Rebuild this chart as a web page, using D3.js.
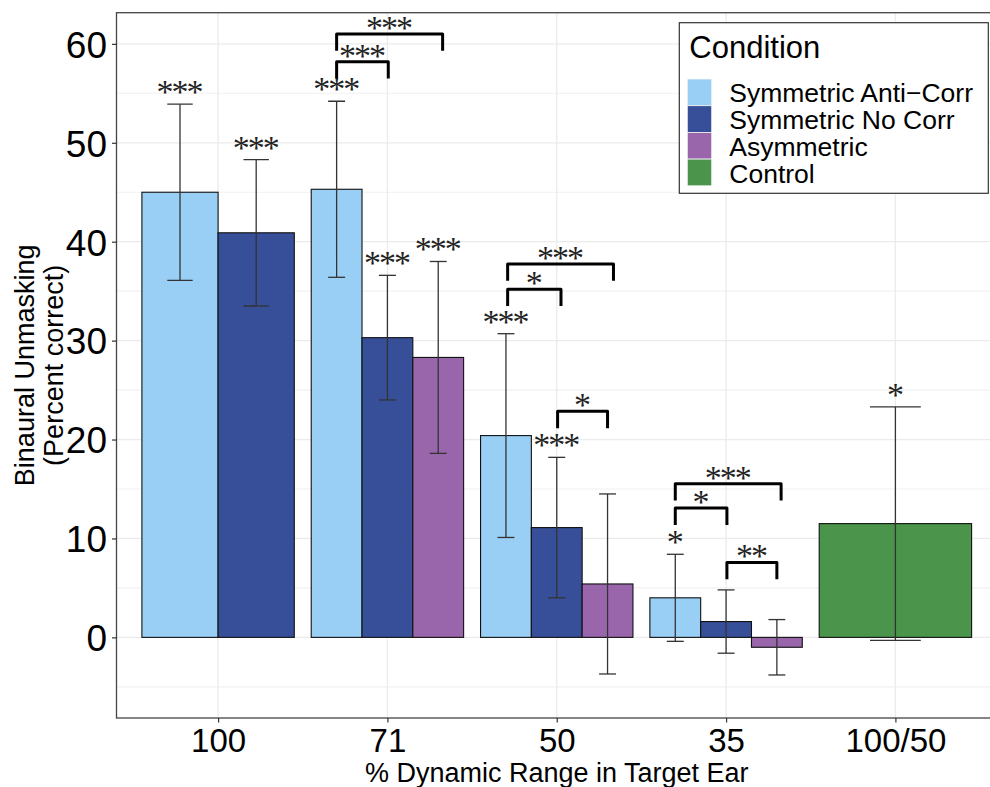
<!DOCTYPE html>
<html>
<head>
<meta charset="utf-8">
<script src="https://cdn.jsdelivr.net/npm/d3@7"></script>
<style>
  html, body { margin: 0; padding: 0; background: #fff; }
  svg { display: block; }
  text { font-family: "Liberation Sans", Arial, sans-serif; }
</style>
</head>
<body>
<svg id="chart" width="990" height="787"></svg>
<script>
// Dynamic-range categories (x axis) and conditions (fill)
const categories = ["100", "71", "50", "35", "100/50"];
const conditions = ["Symmetric Anti\u2212Corr", "Symmetric No Corr", "Asymmetric", "Control"];
const conditionColors = ["#9acff5", "#374f98", "#9966ab", "#4a944b"];

// One entry per bar: category, condition, mean unmasking, error half-width, significance
const barCategory  = ["100", "100", "71", "71", "71", "50", "50", "50", "35", "35", "35", "100/50"];
const barCondition = [0, 1, 0, 1, 2, 0, 1, 2, 0, 1, 2, 3];
const barMean      = [45.0, 40.9, 45.3, 30.3, 28.3, 20.4, 11.1, 5.4, 4.0, 1.6, -1.0, 11.5];
const barError     = [8.9, 7.4, 8.9, 6.3, 9.7, 10.3, 7.1, 9.1, 4.4, 3.2, 2.8, 11.8];
const barSig       = ["***", "***", "***", "***", "***", "***", "***", "", "*", "", "", "*"];

// Pairwise comparison brackets: category, leg positions (offset from category centre,
// in category steps), bracket height (percent) and significance
const bracketCategory = ["71", "71", "50", "50", "50", "35", "35", "35"];
const bracketFrom     = [-0.3, -0.3, -0.29, -0.29, 0.005, -0.3, -0.3, 0.005];
const bracketTo       = [0.005, 0.326, 0.025, 0.335, 0.3, 0.005, 0.325, 0.3];
const bracketY        = [58.2, 61.0, 35.2, 37.75, 22.85, 13.07, 15.53, 7.58];
const bracketLabel    = ["***", "***", "*", "***", "*", "*", "***", "**"];
const bracketLeg      = 1.7;

const yTicks = [0, 10, 20, 30, 40, 50, 60];
const yMinor = [-5, 5, 15, 25, 35, 45, 55];

const svg = d3.select("#chart");
const panel = { left: 116.5, right: 997, top: 12.7, bottom: 718 };

const x = d3.scalePoint().domain(categories).range([panel.left, panel.right]).padding(0.6);
const step = x.step();
const y = d3.scaleLinear().domain([-8.15, 63.15]).range([panel.bottom, panel.top]);

// Bars with dodge positions (0.9 of a step shared within each category)
const bars = barCategory.map((c, i) => ({
  cat: c, cond: barCondition[i], mean: barMean[i], err: barError[i], sig: barSig[i]
}));
const groups = d3.group(bars, d => d.cat);
groups.forEach(list => {
  const n = list.length;
  list.forEach((b, k) => {
    b.w = 0.9 / n * step;
    b.cx = x(b.cat) + (-0.45 + (k + 0.5) * 0.9 / n) * step;
    b.capW = 0.3 / n * step;
  });
});

svg.append("defs").append("clipPath").attr("id", "panel-clip")
  .append("rect").attr("x", panel.left).attr("y", panel.top)
  .attr("width", panel.right - panel.left).attr("height", panel.bottom - panel.top);

const g = svg.append("g").attr("clip-path", "url(#panel-clip)");

// Grid
g.selectAll("line.minor").data(yMinor).join("line")
  .attr("x1", panel.left).attr("x2", panel.right)
  .attr("y1", d => y(d)).attr("y2", d => y(d))
  .attr("stroke", "#f1f1f1").attr("stroke-width", 1.1);
g.selectAll("line.majorY").data(yTicks).join("line")
  .attr("x1", panel.left).attr("x2", panel.right)
  .attr("y1", d => y(d)).attr("y2", d => y(d))
  .attr("stroke", "#ebebeb").attr("stroke-width", 1.3);
g.selectAll("line.majorX").data(categories).join("line")
  .attr("x1", d => x(d)).attr("x2", d => x(d))
  .attr("y1", panel.top).attr("y2", panel.bottom)
  .attr("stroke", "#ebebeb").attr("stroke-width", 1.3);

// Bars
g.selectAll("rect.bar").data(bars).join("rect")
  .attr("x", d => d.cx - d.w / 2)
  .attr("width", d => d.w)
  .attr("y", d => y(Math.max(0, d.mean)))
  .attr("height", d => Math.abs(y(d.mean) - y(0)))
  .attr("fill", d => conditionColors[d.cond])
  .attr("stroke", "#111").attr("stroke-width", 1.1);

// Error bars
const eb = g.selectAll("g.err").data(bars).join("g")
  .attr("stroke", "#333").attr("stroke-width", 1.3).attr("fill", "none");
eb.append("line").attr("x1", d => d.cx).attr("x2", d => d.cx)
  .attr("y1", d => y(d.mean + d.err)).attr("y2", d => y(d.mean - d.err));
eb.append("line").attr("x1", d => d.cx - d.capW / 2).attr("x2", d => d.cx + d.capW / 2)
  .attr("y1", d => y(d.mean + d.err)).attr("y2", d => y(d.mean + d.err));
eb.append("line").attr("x1", d => d.cx - d.capW / 2).attr("x2", d => d.cx + d.capW / 2)
  .attr("y1", d => y(d.mean - d.err)).attr("y2", d => y(d.mean - d.err));

// Significance above each bar
const starFont = '"Liberation Serif", "Times New Roman", serif';
function starText(sel) {
  sel.attr("text-anchor", "middle")
    .style("font-family", starFont).style("font-size", "34px")
    .style("letter-spacing", "-2px").attr("fill", "#222");
}
g.selectAll("text.sig").data(bars.filter(d => d.sig)).join("text")
  .attr("x", d => d.cx - 1)
  .attr("y", d => y(d.mean + d.err) - 1)
  .call(starText)
  .text(d => d.sig);

// Comparison brackets
const brackets = bracketCategory.map((c, i) => ({
  x1: x(c) + bracketFrom[i] * step, x2: x(c) + bracketTo[i] * step,
  yTop: bracketY[i], label: bracketLabel[i]
}));
g.selectAll("path.bracket").data(brackets).join("path")
  .attr("d", d => `M${d.x1},${y(d.yTop - bracketLeg)}V${y(d.yTop)}H${d.x2}V${y(d.yTop - bracketLeg)}`)
  .attr("fill", "none").attr("stroke", "#000").attr("stroke-width", 3)
  .attr("stroke-linejoin", "round");
g.selectAll("text.bracketLabel").data(brackets).join("text")
  .attr("x", d => (d.x1 + d.x2) / 2 - 1)
  .attr("y", d => y(d.yTop) + 5)
  .call(starText)
  .text(d => d.label);

// Panel border
svg.append("rect")
  .attr("x", panel.left).attr("y", panel.top)
  .attr("width", panel.right - panel.left).attr("height", panel.bottom - panel.top)
  .attr("fill", "none").attr("stroke", "#444").attr("stroke-width", 1.3);

// Y axis
const yAxis = svg.append("g").attr("transform", `translate(${panel.left},0)`)
  .call(d3.axisLeft(y).tickValues(yTicks).tickSize(4.5).tickPadding(5).tickFormat(d3.format("d")));
yAxis.select(".domain").remove();
yAxis.selectAll(".tick line").attr("stroke", "#333").attr("stroke-width", 1.2);
yAxis.selectAll(".tick text").attr("fill", "#000")
  .style("font-size", "37px").style("font-family", '"Liberation Sans", Arial, sans-serif')
  .attr("dy", "0.36em");

// X axis
const xAxis = svg.append("g").attr("transform", `translate(0,${panel.bottom})`)
  .call(d3.axisBottom(x).tickSize(4.5).tickPadding(6));
xAxis.select(".domain").remove();
xAxis.selectAll(".tick line").attr("stroke", "#333").attr("stroke-width", 1.2);
xAxis.selectAll(".tick text").attr("fill", "#000")
  .style("font-size", "33px").style("font-family", '"Liberation Sans", Arial, sans-serif')
  .attr("dy", "0.71em");

// Axis titles
svg.append("text")
  .attr("x", (panel.left + panel.right) / 2).attr("y", 781.5)
  .attr("text-anchor", "middle").style("font-size", "27px").attr("fill", "#000")
  .text("% Dynamic Range in Target Ear");
const yTitle = svg.append("text")
  .attr("transform", `translate(33.5,${(panel.top + panel.bottom) / 2}) rotate(-90)`)
  .attr("text-anchor", "middle").style("font-size", "27px").attr("fill", "#000");
yTitle.append("tspan").attr("x", 0).attr("y", 0).text("Binaural Unmasking");
yTitle.append("tspan").attr("x", 0).attr("y", 29).text("(Percent correct)");

// Legend
const legend = svg.append("g").attr("transform", "translate(679.3,22.7)");
legend.append("rect").attr("width", 309).attr("height", 170.6)
  .attr("fill", "#fff").attr("stroke", "#333").attr("stroke-width", 1.2);
legend.append("text").attr("x", 10).attr("y", 35.6)
  .style("font-size", "31px").attr("fill", "#000").text("Condition");
const items = legend.selectAll("g.item").data(conditions).join("g")
  .attr("transform", (d, i) => `translate(8,${56.3 + i * 26.7})`);
items.append("rect").attr("width", 24.4).attr("height", 26.7)
  .attr("fill", (d, i) => conditionColors[i])
  .attr("stroke", "#f4f4f4").attr("stroke-width", 0.8);
items.append("text").attr("x", 42).attr("y", 23.4)
  .style("font-size", "26.5px").attr("fill", "#000").text(d => d);
</script>
</body>
</html>
